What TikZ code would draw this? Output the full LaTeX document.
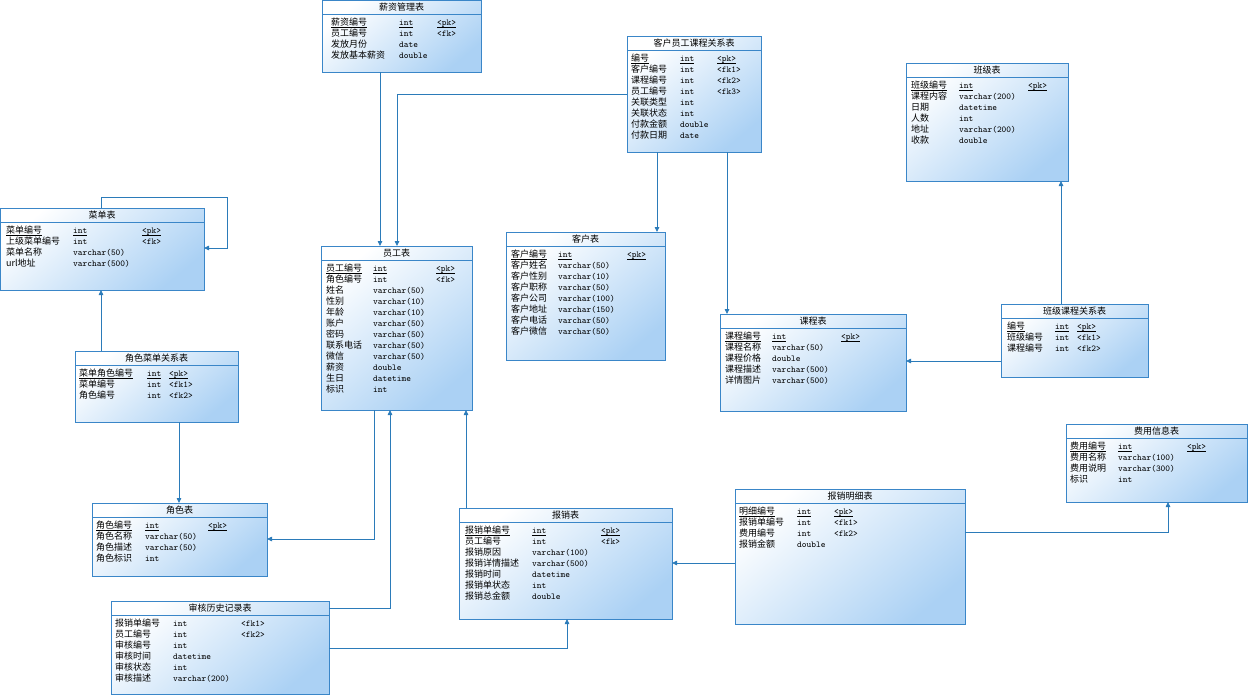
\documentclass[tikz,border=0pt]{standalone}
\usepackage{fontspec}
\usepackage{array}
\setmainfont{Noto Sans CJK SC}
\usetikzlibrary{fit,arrows.meta}

\definecolor{erborder}{HTML}{3A86C8}
\definecolor{erline}{HTML}{2B7BB9}
\definecolor{ershade}{HTML}{ABD1F4}

% key column underline, drawn at a fixed depth below the baseline
\newcommand\pku[1]{\leavevmode\setbox0\hbox{#1}\rlap{\rule[-1.8pt]{\wd0}{0.5pt}}\box0}

% table frame: name, left, top, right, bottom, title
\newcommand\erbox[6]{%
  \node[tbox, fit={(#2,#3) (#4,#5)}] (#1) {};
  \draw[tsep] ([yshift=-14pt]#1.north west) -- ([yshift=-14pt]#1.north east);
  \node[ttitle] at ([yshift=-7.5pt]#1.north) {#6};
}
% column block: box, x offset of names, name column width, type column width, rows
\newcommand\erfields[5]{%
  \node[fields] at ([xshift=#2pt,yshift=-17.5pt]#1.north west)
    {\begin{tabular}{@{}p{#3pt}@{}>{\ttfamily}p{#4pt}@{}>{\ttfamily}l@{}}#5\end{tabular}};
}

\begin{document}
\begin{tikzpicture}[x=1pt,y=-1pt,
  tbox/.style={draw=erborder, line width=0.7pt, top color=white, bottom color=ershade,
    shading angle=40, inner sep=0pt, outer sep=0pt},
  tsep/.style={draw=erborder, line width=0.6pt},
  ttitle/.style={inner sep=0pt, font=\fontsize{9}{11}\selectfont},
  fields/.style={anchor=north west, inner sep=0pt, font=\fontsize{9}{11}\selectfont},
  fk/.style={draw=erline, line width=0.8pt, -{Triangle[length=5pt,width=4.5pt]}}]

\useasboundingbox (0,0) rectangle (1248,696);

% ---- tables ----
\erbox{salary}{322}{0}{481}{72}{薪资管理表}
\erfields{salary}{9}{68}{38}{%
\pku{薪资编号} & \pku{int} & \pku{<pk>}\\
员工编号 & int & <fk>\\
发放月份 & date & \\
发放基本薪资 & double & }

\erbox{cec}{627}{36}{761}{152}{客户员工课程关系表}
\erfields{cec}{4}{49}{37}{%
\pku{编号} & \pku{int} & \pku{<pk>}\\
客户编号 & int & <fk1>\\
课程编号 & int & <fk2>\\
员工编号 & int & <fk3>\\
关联类型 & int & \\
关联状态 & int & \\
付款金额 & double & \\
付款日期 & date & }

\erbox{class}{906}{63}{1068}{181}{班级表}
\erfields{class}{5}{48}{69}{%
\pku{班级编号} & \pku{int} & \pku{<pk>}\\
课程内容 & varchar(200) & \\
日期 & datetime & \\
人数 & int & \\
地址 & varchar(200) & \\
收款 & double & }

\erbox{menu}{0}{208}{204}{290}{菜单表}
\erfields{menu}{6}{67}{69}{%
\pku{菜单编号} & \pku{int} & \pku{<pk>}\\
上级菜单编号 & int & <fk>\\
菜单名称 & varchar(50) & \\
url地址 & varchar(500) & }

\erbox{rm}{75}{351}{238}{422}{角色菜单关系表}
\erfields{rm}{4}{68}{22}{%
\pku{菜单角色编号} & \pku{int} & \pku{<pk>}\\
菜单编号 & int & <fk1>\\
角色编号 & int & <fk2>}

\erbox{role}{92}{503}{267}{576}{角色表}
\erfields{role}{4}{49}{63}{%
\pku{角色编号} & \pku{int} & \pku{<pk>}\\
角色名称 & varchar(50) & \\
角色描述 & varchar(50) & \\
角色标识 & int & }

\erbox{emp}{321}{246}{472}{410}{员工表}
\erfields{emp}{5}{47}{63}{%
\pku{员工编号} & \pku{int} & \pku{<pk>}\\
角色编号 & int & <fk>\\
姓名 & varchar(50) & \\
性别 & varchar(10) & \\
年龄 & varchar(10) & \\
账户 & varchar(50) & \\
密码 & varchar(50) & \\
联系电话 & varchar(50) & \\
微信 & varchar(50) & \\
薪资 & double & \\
生日 & datetime & \\
标识 & int & }

\erbox{cust}{506}{232}{665}{360}{客户表}
\erfields{cust}{5}{47}{69}{%
\pku{客户编号} & \pku{int} & \pku{<pk>}\\
客户姓名 & varchar(50) & \\
客户性别 & varchar(10) & \\
客户职称 & varchar(50) & \\
客户公司 & varchar(100) & \\
客户地址 & varchar(150) & \\
客户电话 & varchar(50) & \\
客户微信 & varchar(50) & }

\erbox{course}{720}{314}{906}{411}{课程表}
\erfields{course}{5}{47}{69}{%
\pku{课程编号} & \pku{int} & \pku{<pk>}\\
课程名称 & varchar(50) & \\
课程价格 & double & \\
课程描述 & varchar(500) & \\
详情图片 & varchar(500) & }

\erbox{cc}{1001}{304}{1148}{377}{班级课程关系表}
\erfields{cc}{6}{48}{22}{%
\pku{编号} & \pku{int} & \pku{<pk>}\\
班级编号 & int & <fk1>\\
课程编号 & int & <fk2>}

\erbox{fee}{1066}{424}{1247}{502}{费用信息表}
\erfields{fee}{4}{48}{69}{%
\pku{费用编号} & \pku{int} & \pku{<pk>}\\
费用名称 & varchar(100) & \\
费用说明 & varchar(300) & \\
标识 & int & }

\erbox{detail}{735}{489}{965}{624}{报销明细表}
\erfields{detail}{4}{58}{37}{%
\pku{明细编号} & \pku{int} & \pku{<pk>}\\
报销单编号 & int & <fk1>\\
费用编号 & int & <fk2>\\
报销金额 & double & }

\erbox{reimb}{459}{508}{672}{619}{报销表}
\erfields{reimb}{6}{67}{69}{%
\pku{报销单编号} & \pku{int} & \pku{<pk>}\\
员工编号 & int & <fk>\\
报销原因 & varchar(100) & \\
报销详情描述 & varchar(500) & \\
报销时间 & datetime & \\
报销单状态 & int & \\
报销总金额 & double & }

\erbox{audit}{111}{601}{329}{694}{审核历史记录表}
\erfields{audit}{4}{58}{68}{%
报销单编号 & int & <fk1>\\
员工编号 & int & <fk2>\\
审核编号 & int & \\
审核时间 & datetime & \\
审核状态 & int & \\
审核描述 & varchar(200) & }

% ---- connector end points ----
\coordinate (salaryOut) at ([xshift=58pt]salary.south west);
\coordinate (cecWest)   at ([yshift=-58pt]cec.north west);
\coordinate (empTop)    at ([xshift=76pt]emp.north west);
\coordinate (cecCust)   at ([xshift=30pt]cec.south west);
\coordinate (cecCourse) at ([xshift=100pt]cec.south west);
\coordinate (ccTop)     at ([xshift=60pt]cc.north west);
\coordinate (ccWest)    at ([yshift=-57pt]cc.north west);
\coordinate (menuTop)   at ([xshift=101pt]menu.north west);
\coordinate (loopCorner) at ([xshift=23pt,yshift=11pt]menu.north east);
\coordinate (menuEast)  at ([yshift=-40pt]menu.north east);
\coordinate (rmTop)     at ([xshift=26pt]rm.north west);
\coordinate (rmBottom)  at ([xshift=104pt]rm.south west);
\coordinate (empRole)   at ([xshift=53pt]emp.south west);
\coordinate (roleEast)  at ([yshift=-36pt]role.north east);
\coordinate (auditEmp)  at ([yshift=-7pt]audit.north east);
\coordinate (empBottom) at ([xshift=69pt]emp.south west);
\coordinate (auditReimb) at ([yshift=-47pt]audit.north east);
\coordinate (reimbBottom) at ([xshift=108pt]reimb.south west);
\coordinate (reimbTop)  at ([xshift=7pt]reimb.north west);
\coordinate (detailWest) at ([yshift=-74pt]detail.north west);
\coordinate (detailEast) at ([yshift=-43pt]detail.north east);
\coordinate (feeBottom) at ([xshift=102pt]fee.south west);

% ---- foreign keys ----
\draw[fk] (salaryOut) -- (salaryOut |- emp.north);
\draw[fk] (cecWest) -| (empTop);
\draw[fk] (cecCust) -- (cecCust |- cust.north);
\draw[fk] (cecCourse) -- (cecCourse |- course.north);
\draw[fk] (ccTop) -- (ccTop |- class.south);
\draw[fk] (ccWest) -- (ccWest -| course.east);
\draw[fk] (menuTop) |- (loopCorner) |- (menuEast);
\draw[fk] (rmTop) -- (rmTop |- menu.south);
\draw[fk] (rmBottom) -- (rmBottom |- role.north);
\draw[fk] (empRole) |- (roleEast);
\draw[fk] (auditEmp) -| (empBottom);
\draw[fk] (auditReimb) -| (reimbBottom);
\draw[fk] (reimbTop) -- (reimbTop |- emp.south);
\draw[fk] (detailWest) -- (detailWest -| reimb.east);
\draw[fk] (detailEast) -| (feeBottom);
\end{tikzpicture}
\end{document}
